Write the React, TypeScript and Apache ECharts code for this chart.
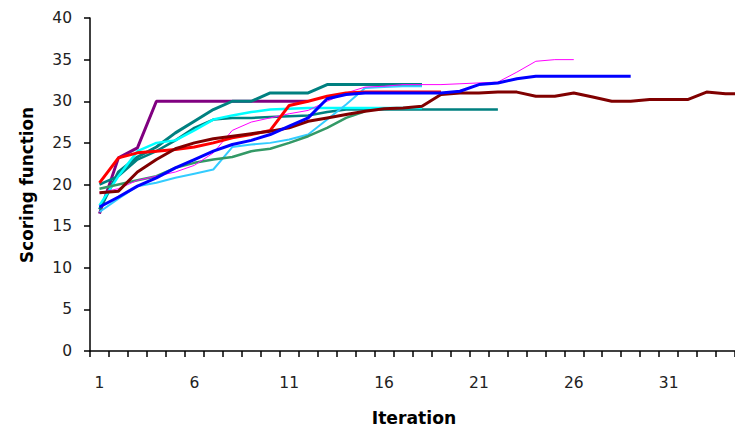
import React, { useEffect, useRef } from "react";
import * as echarts from "echarts";

const iterations = Array.from({ length: 35 }, (_, i) => String(i + 1));
const yTicks = { min: 0, max: 40, step: 5 };

const purple = [16.5, 23.2, 24.4, 30, 30, 30, 30, 30, 30, 30, 30, 30];
const tealA = [17, 21.5, 23.3, 24.5, 26.2, 27.6, 29, 30, 30, 31, 31, 31, 32, 32, 32, 32, 32, 32];
const tealB = [20, 21, 23, 24, 25.3, 26.8, 27.8, 28, 28, 28.1, 28.2, 28.3, 28.7, 29, 29, 29, 29, 29, 29, 29, 29, 29];
const cyan = [17.5, 21, 24, 25, 25.3, 26.5, 27.8, 28.3, 28.7, 29, 29.1, 29.2, 29.2, 29.2, 29.2, 29.2, 29.2, 29.2];
const skyBlue = [16.7, 18.3, 19.8, 20.2, 20.8, 21.3, 21.8, 24.5, 24.8, 25, 25.4, 26, 27.8, 29.6, 31.6, 31.7, 31.8, 31.8];
const seaGreen = [19.5, 20, 20.5, 21, 22, 22.6, 23, 23.3, 24, 24.3, 25, 25.8, 26.8, 28, 28.8];
const magenta = [19, 19.5, 20.5, 21, 21.5, 22.3, 23.8, 26.5, 27.5, 28, 28.5, 28.9, 30, 31, 31.7, 31.8, 32, 32, 32, 32.1, 32.2, 32.3, 33.5, 34.8, 35, 35];
const red = [20.2, 23.2, 23.8, 24, 24.2, 24.5, 25, 25.6, 26, 26.5, 29.5, 30, 30.6, 31, 31.1, 31.1, 31.1, 31.1, 31.1];
const darkRed = [19, 19.2, 21.5, 23, 24.3, 25, 25.5, 25.8, 26.1, 26.4, 26.8, 27.6, 28, 28.4, 28.8, 29.1, 29.2, 29.4, 30.8, 31, 31, 31.1, 31.1, 30.6, 30.6, 31, 30.5, 30, 30, 30.2, 30.2, 30.2, 31.1, 30.9, 30.9];
const blue = [17.3, 18.5, 19.8, 20.8, 22, 23, 24, 24.8, 25.3, 26, 27, 28, 30.3, 30.8, 31, 31, 31, 31, 31, 31.2, 32, 32.2, 32.7, 33, 33, 33, 33, 33, 33];

const seriesList = [
  { name: "S1", data: purple, color: "#800080", width: 3 },
  { name: "S2", data: tealA, color: "#008080", width: 3 },
  { name: "S3", data: tealB, color: "#008080", width: 2.5 },
  { name: "S4", data: cyan, color: "#00FFFF", width: 2.5 },
  { name: "S5", data: skyBlue, color: "#33CCFF", width: 2 },
  { name: "S6", data: seaGreen, color: "#339966", width: 2.5 },
  { name: "S7", data: magenta, color: "#FF00FF", width: 1 },
  { name: "S8", data: red, color: "#FF0000", width: 3 },
  { name: "S9", data: darkRed, color: "#800000", width: 3 },
  { name: "S10", data: blue, color: "#0000FF", width: 3 },
];

export default function App() {
  const ref = useRef<HTMLDivElement>(null);
  useEffect(() => {
    const chart = echarts.init(ref.current!, null, { renderer: "svg" });
    const font = "'DejaVu Sans', sans-serif";
    chart.setOption({
      animation: false,
      backgroundColor: "#ffffff",
      grid: { left: 90, right: 0, top: 18, bottom: 86, containLabel: false },
      xAxis: {
        type: "category",
        data: iterations,
        boundaryGap: true,
        axisLine: { show: true, lineStyle: { color: "#000", width: 1.5 } },
        axisTick: { show: true, interval: 0, length: 6, lineStyle: { color: "#000", width: 1.5 } },
        axisLabel: { interval: 4, margin: 24, fontSize: 15.5, color: "#222", fontFamily: font },
        splitLine: { show: false },
      },
      yAxis: {
        type: "value",
        min: yTicks.min,
        max: yTicks.max,
        interval: yTicks.step,
        axisLine: { show: true, lineStyle: { color: "#000", width: 1.5 } },
        axisTick: { show: true, length: 6, lineStyle: { color: "#000", width: 1.5 } },
        axisLabel: { margin: 18, fontSize: 15.5, color: "#222", fontFamily: font },
        splitLine: { show: false },
      },
      graphic: [
        {
          type: "text",
          x: 27,
          y: 185,
          rotation: Math.PI / 2,
          style: {
            text: "Scoring function",
            fontSize: 16.8,
            fontWeight: "bold",
            fontFamily: font,
            fill: "#000",
            align: "center",
            verticalAlign: "middle",
          },
        },
        {
          type: "text",
          x: 414,
          y: 418,
          style: {
            text: "Iteration",
            fontSize: 17.2,
            fontWeight: "bold",
            fontFamily: font,
            fill: "#000",
            align: "center",
            verticalAlign: "middle",
          },
        },
      ],
      series: seriesList.map((s) => ({
        name: s.name,
        type: "line",
        data: s.data,
        showSymbol: false,
        symbol: "none",
        lineStyle: { color: s.color, width: s.width },
        itemStyle: { color: s.color },
      })),
    });
    return () => chart.dispose();
  }, []);
  return (
    <div style={{ position: "fixed", left: 0, top: 0, width: 735, height: 437, overflow: "hidden", background: "#fff" }}>
      <div ref={ref} style={{ width: 754, height: 437 }} />
    </div>
  );
}
